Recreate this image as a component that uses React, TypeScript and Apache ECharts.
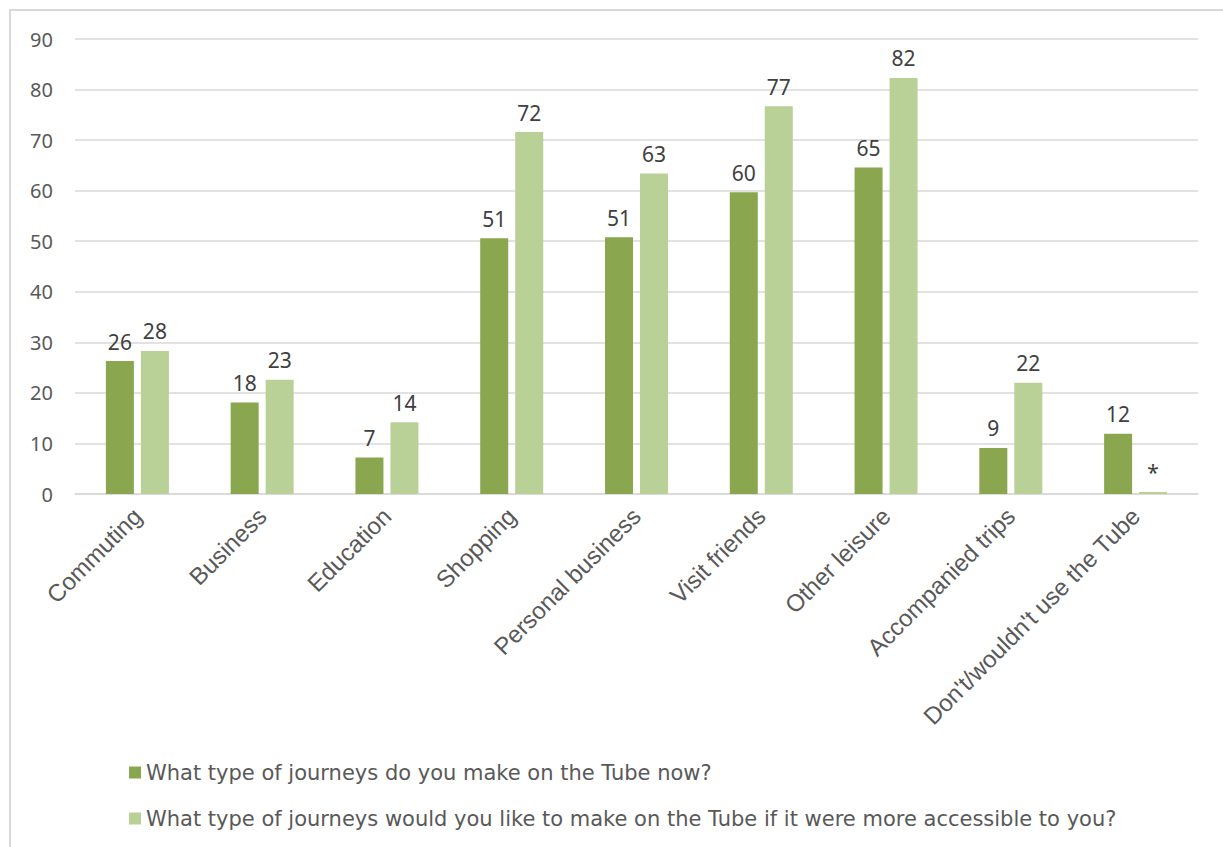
import React, { useEffect, useRef } from "react";
import * as echarts from "echarts";

const categories = [
  "Commuting",
  "Business",
  "Education",
  "Shopping",
  "Personal business",
  "Visit friends",
  "Other leisure",
  "Accompanied trips",
  "Don't/wouldn't use the Tube",
];
const nowValues = [26.3, 18.1, 7.2, 50.6, 50.8, 59.7, 64.6, 9.1, 11.9];
const nowLabels = ["26", "18", "7", "51", "51", "60", "65", "9", "12"];
const wouldValues = [28.3, 22.6, 14.2, 71.6, 63.4, 76.7, 82.3, 22.0, 0.4];
const wouldLabels = ["28", "23", "14", "72", "63", "77", "82", "22", "*"];
const seriesNames = [
  "What type of journeys do you make on the Tube now?",
  "What type of journeys would you like to make on the Tube if it were more accessible to you?",
];
const yTicks = { min: 0, max: 90, interval: 10 };

export default function App() {
  const ref = useRef<HTMLDivElement>(null);
  useEffect(() => {
    if (!ref.current) return;
    const chart = echarts.init(ref.current, undefined, { renderer: "svg" });
    const labelStyle = {
      show: true,
      position: "top" as const,
      distance: 9,
      color: "#404040",
      fontSize: 21,
      fontFamily: "Noto Sans",
    };
    chart.setOption({
      animation: false,
      backgroundColor: "#ffffff",
      graphic: [
        {
          type: "rect",
          shape: { x: 10, y: 10, width: 1400, height: 1000 },
          style: { fill: "none", stroke: "#d9d9d9", lineWidth: 2 },
          silent: true,
        },
      ],
      grid: { left: 75, right: 25, top: 39, bottom: 353 },
      legend: {
        orient: "vertical",
        left: 124,
        top: 757,
        itemWidth: 12,
        itemHeight: 12,
        itemGap: 25,
        icon: "rect",
        textStyle: {
          color: "#595959",
          fontSize: 21,
          fontFamily: "DejaVu Sans",
        },
        data: seriesNames,
      },
      xAxis: {
        type: "category",
        data: categories,
        axisLine: { lineStyle: { color: "#d9d9d9", width: 1.5 } },
        axisTick: { show: false },
        axisLabel: {
          rotate: 45,
          interval: 0,
          margin: 18,
          color: "#595959",
          fontSize: 24,
          fontFamily: "Liberation Sans",
        },
      },
      yAxis: {
        type: "value",
        min: yTicks.min,
        max: yTicks.max,
        interval: yTicks.interval,
        axisLine: { show: false },
        axisTick: { show: false },
        axisLabel: {
          margin: 22,
          color: "#595959",
          fontSize: 20,
          fontFamily: "Noto Sans",
        },
        splitLine: { lineStyle: { color: "#d9d9d9", width: 1.5 } },
      },
      series: [
        {
          name: seriesNames[0],
          type: "bar",
          data: nowValues,
          barWidth: 28,
          barGap: "25%",
          itemStyle: { color: "#8aa64e" },
          label: {
            ...labelStyle,
            formatter: (p: any) => nowLabels[p.dataIndex],
          },
        },
        {
          name: seriesNames[1],
          type: "bar",
          data: wouldValues,
          barWidth: 28,
          barGap: "25%",
          itemStyle: { color: "#b9d096" },
          label: {
            ...labelStyle,
            formatter: (p: any) => wouldLabels[p.dataIndex],
          },
        },
      ],
    });
    return () => chart.dispose();
  }, []);
  return (
    <div
      ref={ref}
      style={{ position: "fixed", left: 0, top: 0, width: 1223, height: 847 }}
    />
  );
}
